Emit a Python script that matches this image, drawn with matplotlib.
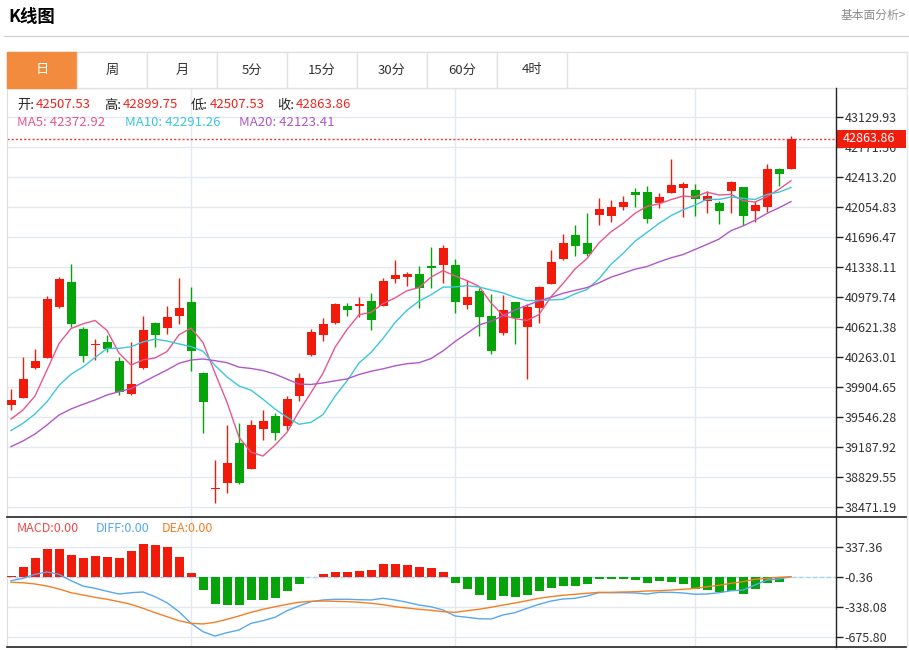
import numpy as np
import pandas as pd
import matplotlib
matplotlib.use('Agg')
import matplotlib.pyplot as plt
from matplotlib.patches import Rectangle
from matplotlib.lines import Line2D

plt.rcParams['font.family'] = ['Noto Sans CJK SC', 'DejaVu Sans']
plt.rcParams['axes.unicode_minus'] = False

W, H = 909, 650

# daily candles, oldest first
opens = [39686, 39777, 40132, 40255, 40857, 41155, 40594, 40403, 40442, 40212,
         39818, 40128, 40669, 40613, 40756, 40916, 40076, 38683, 38754, 39232,
         38929, 39399, 39558, 39439, 39794, 40287, 40522, 40666, 40872, 40872,
         40928, 40876, 41195, 41222, 41255, 41350, 41358, 41366, 40881, 41055,
         40756, 40546, 40920, 40625, 40852, 41135, 41430, 41717, 41628, 41963,
         41951, 42058, 42230, 42238, 42106, 42222, 42282, 42258, 42123, 42099,
         42242, 42290, 42011, 42058, 42512, 42507.53]
highs = [39877, 40259, 40355, 40992, 41222, 41374, 40621, 40475, 40522, 40259,
         40446, 40756, 40685, 40872, 41203, 41103, 40080, 39033, 39451, 39478,
         39511, 39630, 39591, 39797, 40068, 40594, 40725, 40912, 40908, 40976,
         41031, 41207, 41422, 41275, 41350, 41581, 41597, 41430, 41183, 41084,
         41012, 41000, 40925, 40896, 41111, 41541, 41732, 41840, 41987, 42159,
         42138, 42190, 42278, 42306, 42226, 42625, 42354, 42326, 42246, 42127,
         42365, 42297, 42127, 42569, 42518, 42899.75]
lows = [39626, 39770, 40125, 40250, 40850, 40618, 40207, 40227, 40326, 39813,
        39812, 40122, 40386, 40534, 40661, 40099, 39359, 38515, 38642, 38742,
        38922, 39272, 39272, 39391, 39741, 40280, 40458, 40660, 40756, 40744,
        40586, 40870, 41143, 41115, 40845, 41091, 41151, 40785, 40840, 40514,
        40299, 40522, 40418, 39997, 40666, 41130, 41425, 41470, 41470, 41840,
        41872, 42019, 42058, 41867, 42039, 42218, 41932, 41947, 41980, 41852,
        41980, 41840, 41879, 41999, 42309, 42507.53]
closes = [39753, 40000, 40212, 40956, 41195, 40657, 40275, 40415, 40359, 39845,
          39937, 40589, 40529, 40741, 40845, 40338, 39729, 38702, 39000, 38754,
          39447, 39499, 39352, 39765, 40012, 40562, 40657, 40896, 40828, 40896,
          40705, 41175, 41243, 41255, 41084, 41326, 41565, 40924, 40976, 40744,
          40338, 40825, 40725, 40864, 41099, 41394, 41621, 41593, 41493, 42027,
          42058, 42118, 42202, 41908, 42174, 42314, 42330, 42150, 42190, 42007,
          42354, 41947, 42075, 42512, 42445, 42863.86]

# moving averages for the first days (their history is off screen)
ma5_head = [39522, 39630, 39797, 40108]
ma10_head = [39385, 39471, 39582, 39729, 39923, 40058, 40144, 40257, 40365]
ma20_head = [39192, 39260, 39343, 39451, 39570, 39642, 39698, 39749, 39809, 39849,
             39884, 39961, 40036, 40108, 40188, 40227, 40239, 40219, 40195]

macd_hist = [8, 109, 214, 320, 320, 244, 214, 233, 225, 214,
             289, 376, 365, 334, 230, 42, -150, -307, -311, -319,
             -255, -255, -236, -153, -79, 3, 30, 53, 53, 68,
             83, 151, 151, 135, 109, 106, 53, -68, -131, -199,
             -255, -214, -229, -199, -161, -120, -97, -97, -82, -23,
             -23, -26, -37, -68, -45, -52, -82, -131, -150, -172,
             -158, -188, -139, -71, -53, 0]
diff = [-42, -15, 30, 56, 30, -42, -102, -128, -161, -192,
        -177, -169, -222, -290, -391, -522, -616, -665, -627, -597,
        -522, -492, -454, -380, -327, -278, -259, -251, -251, -256,
        -259, -240, -259, -285, -316, -335, -372, -439, -454, -470,
        -473, -428, -402, -353, -308, -271, -248, -240, -214, -177,
        -177, -177, -180, -192, -173, -173, -180, -195, -192, -177,
        -155, -147, -90, -34, -23, 3]
dea = [-60, -65, -79, -102, -135, -177, -203, -229, -251, -278,
       -308, -353, -402, -447, -492, -522, -529, -510, -477, -439,
       -398, -364, -335, -308, -285, -274, -271, -274, -278, -285,
       -296, -312, -335, -349, -364, -375, -391, -398, -380, -364,
       -341, -316, -293, -267, -240, -222, -206, -195, -184, -173,
       -173, -169, -166, -158, -155, -147, -139, -128, -110, -94,
       -71, -53, -26, -15, -4, 3]

price_ticks = [43129.93, 42771.56, 42413.20, 42054.83, 41696.47, 41338.11, 40979.74,
               40621.38, 40263.01, 39904.65, 39546.28, 39187.92, 38829.55, 38471.19]
macd_ticks = [337.36, -0.36, -338.08, -675.80]
month_starts = [15, 37, 57]
tabs = ['日', '周', '月', '5分', '15分', '30分', '60分', '4时']

RED = '#f11b0c'
GREEN = '#07a30a'
PINK = '#e9578c'
CYAN = '#3cc7dc'
PURPLE = '#b257c8'
BLUE = '#56a8f0'
ORANGE = '#f57f22'
GRID = '#e4e9ef'
DARK = '#222222'


def fx(x):
    return x / W


def fy(y):
    return 1 - y / H


def ma(n, head):
    m = pd.Series(closes).rolling(n).mean().to_numpy()
    m[:len(head)] = head
    return m


xs = np.arange(len(closes))
o, hi, lo, cl = map(np.array, (opens, highs, lows, closes))
ma5, ma10, ma20 = ma(5, ma5_head), ma(10, ma10_head), ma(20, ma20_head)

fig = plt.figure(figsize=(W / 100, H / 100), dpi=100)
ax = fig.add_axes([fx(7), fy(517), (836 - 7) / W, (517 - 88) / H])
ax2 = fig.add_axes([fx(7), fy(647), (836 - 7) / W, (647 - 517) / H])

# --- main candle chart
for v in price_ticks:
    ax.axhline(v, color=GRID, lw=1, zorder=0)
for m in month_starts:
    ax.axvline(m, color=GRID, lw=1, zorder=0)

up = cl >= o
col = np.where(up, RED, GREEN)
ax.vlines(xs, lo, hi, colors=col, lw=1, zorder=3)
ax.bar(xs, np.maximum(np.abs(cl - o), 12), 0.75, bottom=np.minimum(o, cl),
       color=col, zorder=4)

ax.plot(xs, ma5, color=PINK, lw=1, zorder=5)
ax.plot(xs, ma10, color=CYAN, lw=1, zorder=5)
ax.plot(xs, ma20, color=PURPLE, lw=1, zorder=5)
ax.axhline(closes[-1], color='#f03a3a', ls=(0, (1.5, 1.5)), lw=1, zorder=2)

ax.set_xlim(-1 / 3, 68.75)
ax.set_ylim(38351.8, 43476.3)
ax.set_xticks([])
ax.yaxis.tick_right()
ax.set_yticks(price_ticks)
ax.set_yticklabels([f'{v:.2f}' for v in price_ticks])
ax.tick_params(axis='y', length=5, width=1, color=DARK, labelcolor='#333333',
               labelsize=9, pad=1)
for s in ('top', 'bottom', 'right'):
    ax.spines[s].set_visible(False)
ax.spines['left'].set_color('#dddddd')

# --- MACD panel
for v in macd_ticks:
    ax2.axhline(v, color=GRID, lw=1, zorder=0)
for m in month_starts:
    ax2.axvline(m, color=GRID, lw=1, zorder=0)
ax2.axhline(0, color='#a9d6ef', ls=(0, (3, 2)), lw=1, zorder=1)
hist = np.array(macd_hist)
ax2.bar(xs, hist, 0.75, color=np.where(hist >= 0, RED, GREEN), zorder=3)
ax2.plot(xs, diff, color=BLUE, lw=1, zorder=4)
ax2.plot(xs, dea, color=ORANGE, lw=1, zorder=4)
ax2.set_xlim(-1 / 3, 68.75)
ax2.set_ylim(-788.37, 675.08)
ax2.set_xticks([])
ax2.yaxis.tick_right()
ax2.set_yticks(macd_ticks)
ax2.set_yticklabels([f'{v:.2f}' for v in macd_ticks])
ax2.tick_params(axis='y', length=5, width=1, color=DARK, labelcolor='#333333',
                labelsize=9, pad=1)
for s in ('top', 'bottom', 'right'):
    ax2.spines[s].set_visible(False)
ax2.spines['left'].set_color('#dddddd')

# frame lines
fig.add_artist(Line2D([fx(7), fx(907)], [fy(517)] * 2, color=DARK, lw=1.2))
fig.add_artist(Line2D([fx(7), fx(907)], [fy(647)] * 2, color=DARK, lw=1.2))
fig.add_artist(Line2D([fx(836)] * 2, [fy(88), fy(647)], color=DARK, lw=1))
fig.add_artist(Line2D([fx(907)] * 2, [fy(52), fy(647)], color='#e6e6e6', lw=1))

# header
fig.text(fx(8), fy(17), 'K线图', fontsize=12.5, fontweight='bold', va='center')
fig.text(fx(906), fy(15), '基本面分析>', fontsize=8.5, color='#8c8c8c',
         ha='right', va='center')
fig.add_artist(Line2D([fx(4), fx(909)], [fy(36)] * 2, color='#d2d2d2', lw=1))

# period tabs
fig.add_artist(Rectangle((fx(7), fy(88)), 900 / W, 36 / H, transform=fig.transFigure,
                         facecolor='white', edgecolor='#e2e2e2', lw=1))
for i, t in enumerate(tabs):
    x0 = 7 + 70 * i
    active = i == 0
    fig.add_artist(Rectangle((fx(x0), fy(88)), 70 / W, 36 / H, transform=fig.transFigure,
                             facecolor='#f28b3d' if active else 'white',
                             edgecolor='#f28b3d' if active else '#e2e2e2', lw=1))
    fig.text(fx(x0 + 35), fy(70), t, ha='center', va='center', fontsize=9.5,
             color='white' if active else '#333333')

# info lines
for lab, x, val, xv in [('开:', 17, opens[-1], 36), ('高:', 104, highs[-1], 123),
                        ('低:', 191, lows[-1], 210), ('收:', 277, closes[-1], 296)]:
    fig.text(fx(x), fy(105), lab, fontsize=9.5, color='#222222', va='center')
    fig.text(fx(xv), fy(105), f'{val:.2f}', fontsize=9.5, color='#f0231c', va='center')
for name, x, val, c in [('MA5', 17, 42372.92, PINK), ('MA10', 125, 42291.26, CYAN),
                        ('MA20', 239, 42123.41, PURPLE)]:
    fig.text(fx(x), fy(123), f'{name}: {val:.2f}', fontsize=9.5, color=c, va='center')

for name, x, c in [('MACD', 17, '#f04a4a'), ('DIFF', 96, BLUE), ('DEA', 162, ORANGE)]:
    fig.text(fx(x), fy(528), f'{name}:0.00', fontsize=9, color=c, va='center')

# last price tag
fig.add_artist(Rectangle((fx(837), fy(148)), 69 / W, 18 / H, transform=fig.transFigure,
                         facecolor='#f01c0c', edgecolor='none'))
fig.text(fx(843), fy(139), f'{closes[-1]:.2f}', fontsize=9, color='white', va='center')

fig.savefig('out.png', dpi=100)
